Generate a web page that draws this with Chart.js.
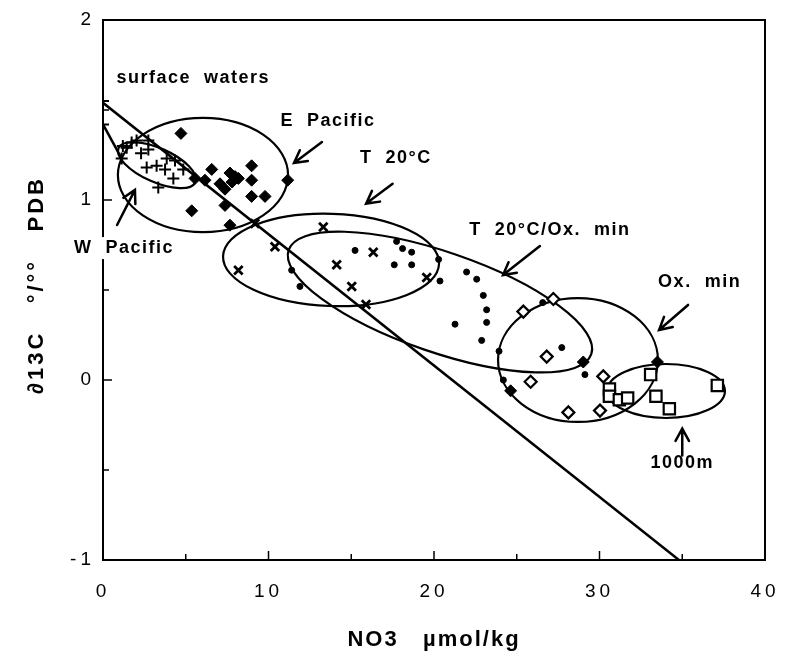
<!DOCTYPE html>
<html><head><meta charset="utf-8">
<script src="https://cdn.jsdelivr.net/npm/chart.js@4/dist/chart.umd.min.js"></script>
<style>html,body{margin:0;padding:0;background:#fff;}canvas{display:block;}</style>
</head><body>
<canvas id="c" width="805" height="662" style="width:805px;height:662px"></canvas>
<script>
// ---------- data ----------
const xTickValues = [0, 10, 20, 30, 40];
const yTickValues = [-1, 0, 1, 2];
const xTitle = 'NO3   µmol/kg';
const yTitle = '∂13C   °/°°   PDB';

// W Pacific surface waters (+)
const wPacNO3  = [0, 0, 1.13, 1.43, 1.73, 2.03, 2.74, 2.74, 2.64, 3.24, 3.85, 3.75, 4.35, 4.25, 4.85, 3.34, 1.2, 2.3];
const wPacD13C = [1.55, 1.42, 1.23, 1.29, 1.32, 1.33, 1.33, 1.28, 1.18, 1.19, 1.23, 1.17, 1.22, 1.12, 1.17, 1.07, 1.30, 1.26];
// E Pacific surface waters (filled diamonds)
const ePacNO3  = [4.71, 5.56, 6.16, 6.57, 7.07, 7.67, 7.98, 8.18, 8.98, 8.98, 8.98, 9.79, 7.37, 7.37, 5.36, 7.67, 11.16, 7.8];
const ePacD13C = [1.37, 1.12, 1.11, 1.17, 1.09, 1.15, 1.13, 1.12, 1.19, 1.11, 1.02, 1.02, 1.06, 0.97, 0.94, 0.86, 1.11, 1.10];
// T 20°C (x)
const t20NO3  = [9.18, 13.31, 10.39, 8.18, 14.12, 16.33, 15.03, 15.89, 19.56];
const t20D13C = [0.87, 0.85, 0.74, 0.61, 0.64, 0.71, 0.52, 0.42, 0.57];
// T 20°C / Ox. min (dots)
const t20OxNO3  = [11.4, 11.9, 15.23, 17.74, 18.1, 18.65, 17.6, 18.65, 20.28, 20.36, 21.97, 22.58, 22.98, 23.18, 23.18, 21.27, 22.88, 23.93, 26.57, 27.72, 29.12, 24.19];
const t20OxD13C = [0.61, 0.52, 0.72, 0.77, 0.73, 0.71, 0.64, 0.64, 0.67, 0.55, 0.60, 0.56, 0.47, 0.39, 0.32, 0.31, 0.22, 0.16, 0.43, 0.18, 0.03, 0.00];
// boundary filled diamonds
const oxEdgeNO3  = [24.63, 29.02, 33.5];
const oxEdgeD13C = [-0.06, 0.10, 0.10];
// Ox. min (open diamonds)
const oxMinNO3  = [27.21, 25.4, 26.81, 25.84, 30.23, 28.12, 30.03];
const oxMinD13C = [0.45, 0.38, 0.13, -0.01, 0.02, -0.18, -0.17];
// 1000 m (open squares)
const deepNO3  = [33.09, 30.6, 30.6, 31.2, 31.7, 33.41, 34.22, 37.12];
const deepD13C = [0.03, -0.05, -0.09, -0.11, -0.10, -0.09, -0.16, -0.03];
// regression line and short W Pacific connector
const regNO3  = [0, 34.8];
const regD13C = [1.54, -1.0];
const segNO3  = [0, 1.13];
const segD13C = [1.42, 1.23];

// group outlines: centre (NO3, d13C), half-widths in data units, tilt (deg)
const ellCX  = [6.04, 3.26, 13.78, 20.36, 28.70, 34.02];
const ellCY  = [1.139, 1.194, 0.667, 0.433, 0.111, -0.061];
const ellRX  = [5.14, 2.54, 6.53, 9.67, 4.83, 3.56];
const ellRY  = [0.317, 0.094, 0.256, 0.278, 0.344, 0.15];
const ellRot = [0, 24, 2, 19, 0, 0];

// labels
const labelText = ['surface  waters', 'E  Pacific', 'T  20°C', 'T  20°C/Ox.  min', 'Ox.  min', '1000m', 'W  Pacific'];
const labelX = [5.45, 13.6, 17.7, 27.0, 36.05, 35.0, 1.27];
const labelY = [1.68, 1.44, 1.233, 0.833, 0.544, -0.46, 0.733];
// arrows: tail -> tip
const arrTailX = [13.23, 17.5, 26.4, 35.35, 35.0, 0.85];
const arrTailY = [1.322, 1.09, 0.744, 0.417, -0.42, 0.861];
const arrTipX  = [11.54, 15.9, 24.17, 33.6, 35.0, 1.93];
const arrTipY  = [1.206, 0.98, 0.583, 0.278, -0.27, 1.056];

const pts = (xs, ys) => xs.map((v, i) => ({x: v, y: ys[i]}));
const FONT = "'Liberation Sans', Arial, Helvetica, sans-serif";

const decor = {
  id: 'decor',
  beforeDraw(chart) { chart.ctx.letterSpacing = '4px'; },
  beforeDatasetsDraw(chart) {
    const {ctx, chartArea: a, scales: {x, y}} = chart;
    ctx.letterSpacing = '0px';
    ctx.save();
    ctx.strokeStyle = '#000';
    ctx.lineWidth = 2;
    ctx.strokeRect(a.left, a.top, a.right - a.left, a.bottom - a.top);
    ctx.lineWidth = 1.5;
    for (let v = x.min; v <= x.max + 1e-9; v += 5) {
      const px = x.getPixelForValue(v);
      const len = (Math.abs(v % 10) < 1e-9) ? 9 : 6;
      ctx.beginPath(); ctx.moveTo(px, a.bottom); ctx.lineTo(px, a.bottom - len); ctx.stroke();
    }
    for (let v = y.min; v <= y.max + 1e-9; v += 0.5) {
      const py = y.getPixelForValue(v);
      const len = (Math.abs(v % 1) < 1e-9) ? 9 : 6;
      ctx.beginPath(); ctx.moveTo(a.left, py); ctx.lineTo(a.left + len, py); ctx.stroke();
    }
    ctx.lineWidth = 2.2;
    ellCX.forEach((cxv, i) => {
      const cx = x.getPixelForValue(cxv), cy = y.getPixelForValue(ellCY[i]);
      const rx = Math.abs(x.getPixelForValue(cxv + ellRX[i]) - cx);
      const ry = Math.abs(y.getPixelForValue(ellCY[i] + ellRY[i]) - cy);
      ctx.beginPath(); ctx.ellipse(cx, cy, rx, ry, ellRot[i] * Math.PI / 180, 0, 2 * Math.PI); ctx.stroke();
    });
    ctx.restore();
  },
  afterDraw(chart) {
    const {ctx, chartArea: a, scales: {x, y}} = chart;
    ctx.save();
    ctx.strokeStyle = '#000'; ctx.lineWidth = 2.5; ctx.lineCap = 'round';
    arrTipX.forEach((tx, i) => {
      const x1 = x.getPixelForValue(arrTailX[i]), y1 = y.getPixelForValue(arrTailY[i]);
      const x2 = x.getPixelForValue(tx), y2 = y.getPixelForValue(arrTipY[i]);
      const ang = Math.atan2(y2 - y1, x2 - x1), h = 14, w = 0.5;
      ctx.beginPath(); ctx.moveTo(x1, y1); ctx.lineTo(x2, y2);
      ctx.moveTo(x2 - h * Math.cos(ang - w), y2 - h * Math.sin(ang - w)); ctx.lineTo(x2, y2);
      ctx.lineTo(x2 - h * Math.cos(ang + w), y2 - h * Math.sin(ang + w));
      ctx.stroke();
    });
    ctx.font = 'bold 18px ' + FONT;
    ctx.letterSpacing = '1.5px';
    ctx.textAlign = 'center'; ctx.textBaseline = 'middle';
    labelText.forEach((t, i) => {
      const px = x.getPixelForValue(labelX[i]), py = y.getPixelForValue(labelY[i]);
      if (t.startsWith('W')) {
        const w = ctx.measureText(t).width;
        ctx.fillStyle = '#fff'; ctx.fillRect(px - w / 2 - 2, py - 11, w + 4, 22);
      }
      ctx.fillStyle = '#000';
      ctx.fillText(t, px, py);
    });
    // axis titles
    ctx.font = 'bold 22px ' + FONT;
    ctx.letterSpacing = '2px';
    ctx.fillText(xTitle, (a.left + a.right) / 2, 640);
    ctx.translate(37, (a.top + a.bottom) / 2 - 5);
    ctx.rotate(-Math.PI / 2);
    ctx.letterSpacing = '3px';
    ctx.fillText(yTitle, 0, 0);
    ctx.restore();
    ctx.letterSpacing = '0px';
  }
};

new Chart(document.getElementById('c'), {
  type: 'scatter',
  data: {
    datasets: [
      {data: pts(regNO3, regD13C), showLine: true, borderColor: '#000', borderWidth: 2.5, pointRadius: 0},
      {data: pts(segNO3, segD13C), showLine: true, borderColor: '#000', borderWidth: 2.5, pointRadius: 0},
      {data: pts(wPacNO3, wPacD13C), pointStyle: 'cross', radius: 6, borderColor: '#000', borderWidth: 2},
      {data: pts(ePacNO3, ePacD13C), pointStyle: 'rectRot', radius: 6, backgroundColor: '#000', borderColor: '#000', borderWidth: 1},
      {data: pts(t20NO3, t20D13C), pointStyle: 'crossRot', radius: 6, borderColor: '#000', borderWidth: 2.8},
      {data: pts(t20OxNO3, t20OxD13C), pointStyle: 'circle', radius: 3, backgroundColor: '#000', borderColor: '#000', borderWidth: 1},
      {data: pts(oxEdgeNO3, oxEdgeD13C), pointStyle: 'rectRot', radius: 6, backgroundColor: '#000', borderColor: '#000', borderWidth: 1},
      {data: pts(oxMinNO3, oxMinD13C), pointStyle: 'rectRot', radius: 6, backgroundColor: '#fff', borderColor: '#000', borderWidth: 2.2},
      {data: pts(deepNO3, deepD13C), pointStyle: 'rect', radius: 8, backgroundColor: '#fff', borderColor: '#000', borderWidth: 2.2},
      {data: pts(deepNO3, deepD13C), pointStyle: 'circle', radius: 1.2, backgroundColor: '#000', borderColor: '#000', borderWidth: 0}
    ]
  },
  options: {
    responsive: false, animation: false, devicePixelRatio: 1,
    layout: {padding: {left: 0, top: 20, right: 40, bottom: 0}},
    plugins: {legend: {display: false}, tooltip: {enabled: false}},
    elements: {line: {tension: 0}},
    scales: {
      x: {
        type: 'linear', min: 0, max: 40,
        afterBuildTicks: s => { s.ticks = xTickValues.map(v => ({value: v})); },
        afterFit: s => { s.height = 102; },
        grid: {display: false, drawTicks: false},
        border: {display: false},
        ticks: {color: '#000', font: {family: FONT, size: 19}, padding: 20, maxRotation: 0},
        title: {display: false}
      },
      y: {
        type: 'linear', min: -1, max: 2,
        afterBuildTicks: s => { s.ticks = yTickValues.map(v => ({value: v})); },
        afterFit: s => { s.width = 103; },
        grid: {display: false, drawTicks: false},
        border: {display: false},
        ticks: {color: '#000', font: {family: FONT, size: 19}, padding: 8},
        title: {display: false}
      }
    }
  },
  plugins: [decor]
});
</script>
</body></html>
